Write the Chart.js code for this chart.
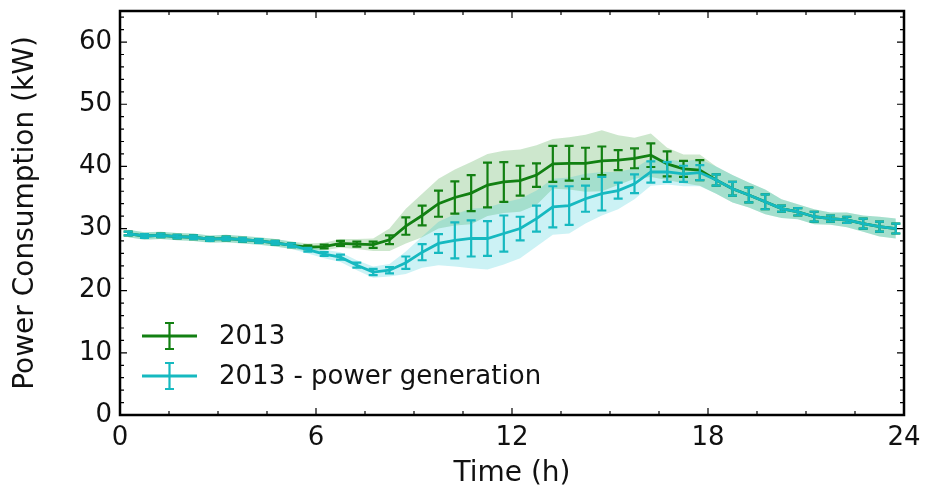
<!DOCTYPE html>
<html>
<head>
<meta charset="utf-8">
<script src="https://cdn.jsdelivr.net/npm/chart.js@4.4.1/dist/chart.umd.min.js"></script>
<style>
  html, body { margin: 0; padding: 0; background: #fff; }
  #wrap { width: 925px; height: 491px; }
</style>
</head>
<body>
<div id="wrap"><canvas id="PowerChart"></canvas></div>
<script>
// half-hour bins (bin centres, hours)
const hours = [0.25, 0.75, 1.25, 1.75, 2.25, 2.75, 3.25, 3.75, 4.25, 4.75, 5.25, 5.75,
  6.25, 6.75, 7.25, 7.75, 8.25, 8.75, 9.25, 9.75, 10.25, 10.75, 11.25, 11.75,
  12.25, 12.75, 13.25, 13.75, 14.25, 14.75, 15.25, 15.75, 16.25, 16.75, 17.25, 17.75,
  18.25, 18.75, 19.25, 19.75, 20.25, 20.75, 21.25, 21.75, 22.25, 22.75, 23.25, 23.75];

// 2013 consumption (kW)
const load2013 = [29.2, 28.8, 28.9, 28.7, 28.6, 28.3, 28.4, 28.2, 28.0, 27.7, 27.3, 27.0,
  27.1, 27.6, 27.5, 27.4, 28.2, 30.4, 32.1, 34.0, 35.0, 35.7, 37.0, 37.5,
  37.7, 38.6, 40.4, 40.5, 40.5, 40.9, 41.0, 41.3, 41.8, 40.4, 39.6, 39.4,
  37.8, 36.4, 35.4, 34.3, 33.2, 32.7, 31.9, 31.6, 31.4, 30.8, 30.3, 30.0];
const load2013Err = [0.3, 0.3, 0.3, 0.3, 0.3, 0.3, 0.3, 0.3, 0.3, 0.3, 0.3, 0.3,
  0.3, 0.4, 0.4, 0.5, 0.7, 1.4, 1.6, 2.1, 2.6, 2.9, 3.6, 3.2,
  2.4, 1.9, 2.9, 2.8, 2.5, 2.3, 1.6, 1.6, 1.9, 2.0, 1.3, 1.6,
  0.9, 1.1, 1.2, 1.2, 0.5, 0.6, 0.8, 0.5, 0.5, 0.8, 0.8, 0.8];
const load2013Band = [0.6, 0.6, 0.6, 0.6, 0.6, 0.6, 0.6, 0.6, 0.6, 0.6, 0.6, 0.6,
  0.6, 0.7, 0.8, 1.0, 1.8, 2.8, 3.5, 4.0, 4.5, 5.0, 5.0, 5.0,
  5.0, 4.8, 4.0, 4.2, 4.6, 4.9, 4.0, 3.3, 3.5, 2.6, 2.3, 2.5,
  2.2, 2.2, 2.0, 2.0, 1.5, 1.2, 1.2, 1.0, 1.2, 1.3, 1.6, 1.6];

// 2013 consumption minus own power generation (kW)
const net2013 = [29.2, 28.8, 28.9, 28.7, 28.6, 28.3, 28.4, 28.2, 28.0, 27.7, 27.3, 26.6,
  25.9, 25.4, 24.1, 23.0, 23.3, 24.5, 26.2, 27.6, 28.1, 28.4, 28.4, 29.2,
  30.0, 31.6, 33.5, 33.7, 34.8, 35.6, 36.1, 37.2, 39.1, 39.1, 38.8, 39.0,
  37.8, 36.4, 35.4, 34.3, 33.2, 32.7, 31.9, 31.6, 31.4, 30.8, 30.3, 30.0];
const net2013Err = [0.3, 0.3, 0.3, 0.3, 0.3, 0.3, 0.3, 0.3, 0.3, 0.3, 0.3, 0.3,
  0.3, 0.4, 0.4, 0.5, 0.5, 1.0, 1.3, 1.5, 2.9, 2.9, 2.8, 2.9,
  1.9, 2.1, 3.3, 3.1, 2.1, 2.7, 1.3, 1.5, 1.7, 1.6, 1.3, 1.2,
  0.9, 1.1, 1.2, 1.2, 0.5, 0.6, 0.8, 0.5, 0.5, 0.8, 0.8, 0.8];
const net2013Band = [0.6, 0.6, 0.6, 0.6, 0.6, 0.6, 0.6, 0.6, 0.6, 0.6, 0.6, 0.6,
  0.7, 0.8, 0.8, 0.9, 1.0, 1.8, 2.5, 3.5, 4.2, 4.8, 5.0, 5.0,
  4.8, 4.5, 4.5, 4.5, 4.0, 3.5, 3.0, 2.5, 2.2, 2.0, 2.0, 2.2,
  2.2, 2.2, 2.0, 2.0, 1.5, 1.2, 1.2, 1.0, 1.2, 1.3, 1.6, 1.6];

const xTicks = [0, 6, 12, 18, 24];
const yTicks = [0, 10, 20, 30, 40, 50, 60];

const GREEN = '#128012';
const CYAN = '#16b9c0';
const FONT = '"DejaVu Sans", sans-serif';

const pts = (vals, off, sign) => hours.map((h, i) => ({ x: h, y: vals[i] + sign * (off ? off[i] : 0) }));

// error bars drawn right after their line, using the chart scales
const errorBars = {
  id: 'errorBars',
  afterDatasetDraw(chart, args) {
    const ds = chart.data.datasets[args.index];
    if (!ds.errors) return;
    const { ctx, scales: { x, y } } = chart;
    ctx.save();
    ctx.strokeStyle = ds.borderColor;
    ctx.lineWidth = 2.2;
    ds.data.forEach((p, i) => {
      const px = x.getPixelForValue(p.x);
      const top = y.getPixelForValue(p.y + ds.errors[i]);
      const bot = y.getPixelForValue(p.y - ds.errors[i]);
      ctx.beginPath();
      ctx.moveTo(px, top); ctx.lineTo(px, bot);
      ctx.moveTo(px - 4.5, top); ctx.lineTo(px + 4.5, top);
      ctx.moveTo(px - 4.5, bot); ctx.lineTo(px + 4.5, bot);
      ctx.stroke();
    });
    ctx.restore();
  }
};

// box frame with inward ticks on all sides (matplotlib look)
const frameTicks = {
  id: 'frameTicks',
  afterDraw(chart) {
    const { ctx, chartArea: a, scales: { x, y } } = chart;
    ctx.save();
    ctx.strokeStyle = '#000';
    ctx.lineWidth = 1.2;
    ctx.beginPath();
    for (let v = 0; v <= 24; v += 1.5) {
      const px = x.getPixelForValue(v);
      const len = v % 6 === 0 ? 7 : 4;
      ctx.moveTo(px, a.bottom); ctx.lineTo(px, a.bottom - len);
      ctx.moveTo(px, a.top); ctx.lineTo(px, a.top + len);
    }
    for (let v = 0; v <= 64; v += 2) {
      const py = y.getPixelForValue(v);
      const len = v % 10 === 0 ? 7 : 4;
      ctx.moveTo(a.left, py); ctx.lineTo(a.left + len, py);
      ctx.moveTo(a.right, py); ctx.lineTo(a.right - len, py);
    }
    ctx.stroke();
    ctx.lineWidth = 2.5;
    ctx.strokeRect(a.left, a.top, a.right - a.left, a.bottom - a.top);
    ctx.restore();
  }
};

// legend in the lower left of the plot area
const errLegend = {
  id: 'errLegend',
  afterDraw(chart) {
    const { ctx, chartArea: a } = chart;
    const items = chart.data.datasets.filter(d => d.errors);
    ctx.save();
    ctx.font = '26px ' + FONT;
    ctx.textBaseline = 'middle';
    items.forEach((d, i) => {
      const cy = a.top + 325 + i * 40;
      const x0 = a.left + 22;
      ctx.strokeStyle = d.borderColor;
      ctx.lineWidth = 2.8;
      ctx.beginPath();
      ctx.moveTo(x0, cy); ctx.lineTo(x0 + 55, cy);
      ctx.stroke();
      ctx.lineWidth = 2.2;
      ctx.beginPath();
      ctx.moveTo(x0 + 27.5, cy - 13); ctx.lineTo(x0 + 27.5, cy + 13);
      ctx.moveTo(x0 + 23, cy - 13); ctx.lineTo(x0 + 32, cy - 13);
      ctx.moveTo(x0 + 23, cy + 13); ctx.lineTo(x0 + 32, cy + 13);
      ctx.stroke();
      ctx.fillStyle = '#111';
      ctx.fillText(d.label, x0 + 77, cy + 1);
    });
    ctx.restore();
  }
};

const data = {
  datasets: [
    { label: 'band 2013 hi', data: pts(load2013, load2013Band, 1), borderWidth: 0, pointRadius: 0, fill: false, order: 20 },
    { label: 'band 2013 lo', data: pts(load2013, load2013Band, -1), borderWidth: 0, pointRadius: 0, fill: '-1', backgroundColor: 'rgba(20,140,20,0.21)', order: 20 },
    { label: 'band net hi', data: pts(net2013, net2013Band, 1), borderWidth: 0, pointRadius: 0, fill: false, order: 19 },
    { label: 'band net lo', data: pts(net2013, net2013Band, -1), borderWidth: 0, pointRadius: 0, fill: '-1', backgroundColor: 'rgba(0,190,205,0.2)', order: 19 },
    { label: '2013', data: pts(load2013, null, 0), errors: load2013Err, borderColor: GREEN, borderWidth: 2.8, pointRadius: 0, fill: false, order: 2 },
    { label: '2013 - power generation', data: pts(net2013, null, 0), errors: net2013Err, borderColor: CYAN, borderWidth: 2.8, pointRadius: 0, fill: false, order: 1 }
  ]
};

const config = {
  type: 'line',
  data: data,
  plugins: [errorBars, frameTicks, errLegend],
  options: {
    responsive: false,
    animation: false,
    layout: { padding: { top: 11, right: 21, left: 0, bottom: 0 } },
    plugins: { legend: { display: false }, tooltip: { enabled: false } },
    elements: { line: { tension: 0 } },
    scales: {
      x: {
        type: 'linear', min: 0, max: 24,
        afterBuildTicks: s => { s.ticks = xTicks.map(v => ({ value: v })); },
        ticks: { font: { family: FONT, size: 26 }, color: '#111', padding: 8 },
        grid: { display: false, drawTicks: false },
        border: { display: false },
        title: { display: true, text: 'Time (h)', font: { family: FONT, size: 28 }, color: '#111', padding: { top: 2, bottom: 0 } },
        afterFit: s => { s.height = 76; s.paddingLeft = 0; s.paddingRight = 0; }
      },
      y: {
        type: 'linear', min: 0, max: 65,
        afterBuildTicks: s => { s.ticks = yTicks.map(v => ({ value: v })); },
        ticks: { font: { family: FONT, size: 26 }, color: '#111', padding: 8 },
        grid: { display: false, drawTicks: false },
        border: { display: false },
        title: { display: true, text: 'Power Consumption (kW)', font: { family: FONT, size: 28 }, color: '#111', padding: { top: 9, bottom: 0 } },
        afterFit: s => { s.width = 120; s.paddingTop = 0; s.paddingBottom = 0; }
      }
    }
  }
};

const canvas = document.getElementById('PowerChart');
canvas.width = 925;
canvas.height = 491;
new Chart(canvas.getContext('2d'), config);
</script>
</body>
</html>
